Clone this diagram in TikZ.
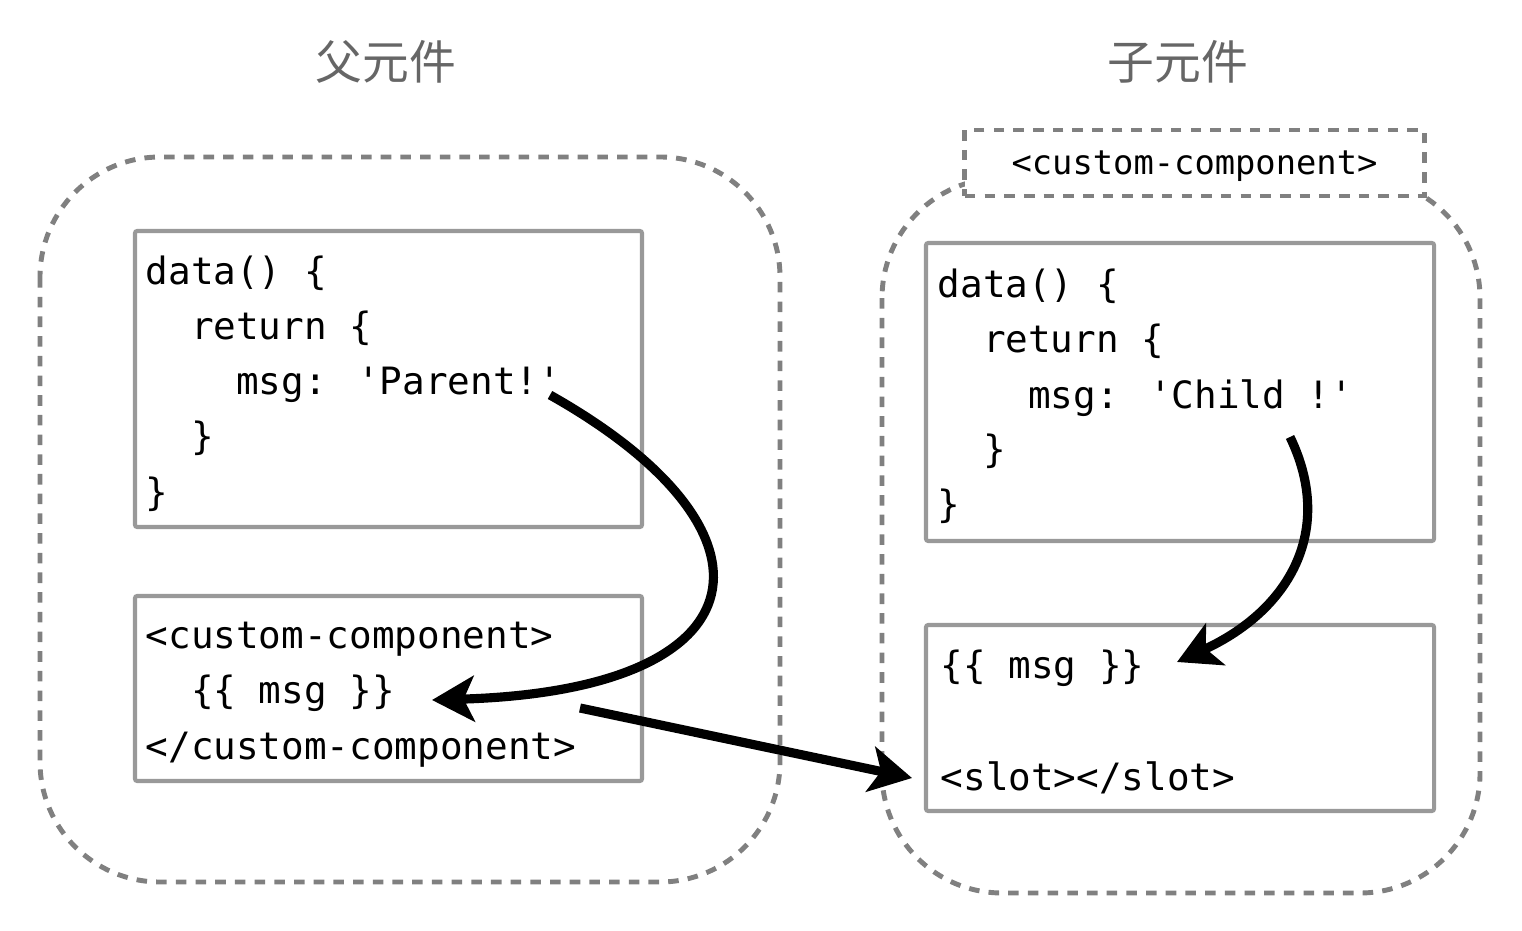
\documentclass[tikz,border=0pt]{standalone}
\usepackage{fontspec}
\newfontfamily\cjkfont{Noto Sans CJK TC}
\newfontfamily\codefont{DejaVu Sans Mono}
\usetikzlibrary{arrows.meta}

\definecolor{dashgray}{HTML}{808080}
\definecolor{boxgray}{HTML}{999999}
\definecolor{titlegray}{HTML}{666666}

\tikzset{
  comp/.style={draw=dashgray, line width=1.4pt, dash pattern=on 3pt off 2.6pt, rounded corners=1.2cm},
  codebox/.style={draw=boxgray, line width=1.15pt, rounded corners=0.6pt},
  code/.style={anchor=base west, inner sep=0pt, font=\codefont\fontsize{10.7}{12}\selectfont},
  tagbox/.style={draw=dashgray, fill=white, line width=1.4pt, dash pattern=on 3pt off 2.6pt,
    minimum width=4.59cm, minimum height=0.66cm, inner sep=0pt, text depth=0pt,
    font=\codefont\fontsize{9.6}{11}\selectfont},
  title/.style={text=titlegray, inner sep=0pt, font=\cjkfont\fontsize{13.3}{16}\selectfont},
  flow/.style={line width=2.6pt, -{Stealth[length=12pt,width=13pt,inset=3pt]}}
}

\begin{document}
\begin{tikzpicture}[x=0.01cm, y=-0.01cm]
  \useasboundingbox (0,0) rectangle (1522,931);

  % Coordinates
  \coordinate (pStart) at (550,395);
  \coordinate (pEnd)   at (432,700);
  \coordinate (sStart) at (580,708);
  \coordinate (sEnd)   at (912,778);
  \coordinate (cStart) at (1290,437);
  \coordinate (cEnd)   at (1177,662);

  % Titles
  \node[title] (parentTitle) at (386,62) {父元件};
  \node[title] (childTitle) at (1178,62) {子元件};

  % Component outlines
  \draw[comp] (40,157) rectangle (780,882);
  \draw[comp] (882,178) rectangle (1480,893);
  \node[tagbox] (tag) at (1194.5,163) {<custom-component>};

  % Parent boxes
  \draw[codebox] (135,231) rectangle (642,527);
  \draw[codebox] (135,596) rectangle (642,781);
  \node[code] (pData)  at (145,285) {data() \{};
  \node[code] (pRet)   at (145,340) {\ \ return \{};
  \node[code] (pMsg)   at (145,395) {\ \ \ \ msg: 'Parent!'};
  \node[code] (pClA)   at (145,450) {\ \ \}};
  \node[code] (pClB)   at (145,505) {\}};
  \node[code] (pOpen)  at (145,648) {<custom-component>};
  \node[code] (pSlot)  at (145,703) {\ \ \{\{ msg \}\}};
  \node[code] (pClose) at (145,759) {</custom-component>};

  % Child boxes
  \draw[codebox] (926,243) rectangle (1434,541);
  \draw[codebox] (926,625) rectangle (1434,811);
  \node[code] (cData)  at (937,298) {data() \{};
  \node[code] (cRet)   at (937,353) {\ \ return \{};
  \node[code] (cMsg)   at (937,409) {\ \ \ \ msg: 'Child !'};
  \node[code] (cClA)   at (937,463) {\ \ \}};
  \node[code] (cClB)   at (937,518) {\}};
  \node[code] (cText)  at (940,678) {\{\{ msg \}\}};
  \node[code] (cSlot)  at (940,790) {<slot></slot>};

  % Arrows
  \draw[flow] (pStart) .. controls (790,530) and (770,690) .. (pEnd);
  \draw[flow] (sStart) -- (sEnd);
  \draw[flow] (cStart) .. controls (1335,530) and (1290,610) .. (cEnd);
\end{tikzpicture}
\end{document}
